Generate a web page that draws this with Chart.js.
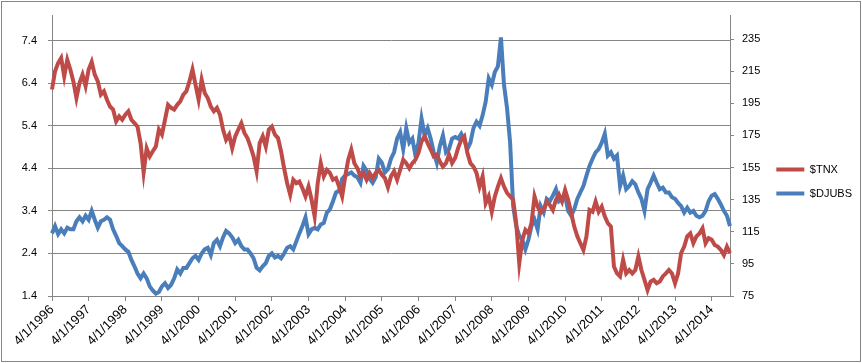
<!DOCTYPE html>
<html>
<head>
<meta charset="utf-8">
<script src="https://cdn.jsdelivr.net/npm/chart.js@4.4.1/dist/chart.umd.min.js"></script>
<style>
  html, body { margin: 0; padding: 0; background: #fff; }
  #wrap { position: relative; width: 862px; height: 363px; }
</style>
</head>
<body>
<div id="wrap"><canvas id="chart" width="862" height="363"></canvas></div>
<script>
// monthly readings, Apr 1996 .. Oct 2014
const startYear = 1996;
const startMonth = 4;

// $TNX (left axis)
const tnx = [
  6.25, 6.68, 6.87, 6.99, 6.56, 6.95, 6.72, 6.44, 6.05, 6.40, 6.60, 6.33,
  6.72, 6.90, 6.60, 6.44, 6.13, 6.21, 6.01, 5.85, 5.78, 5.50, 5.62, 5.54,
  5.66, 5.74, 5.54, 5.46, 5.38, 4.99, 4.30, 4.87, 4.68, 4.80, 4.91, 5.31,
  5.19, 5.54, 5.89, 5.82, 5.78, 5.89, 5.97, 6.13, 6.21, 6.44, 6.72, 6.36,
  6.01, 6.48, 6.17, 6.05, 5.85, 5.74, 5.82, 5.66, 5.31, 5.07, 5.19, 4.87,
  5.15, 5.31, 5.46, 5.23, 5.11, 4.91, 4.68, 4.33, 4.99, 5.15, 4.91, 5.31,
  5.38, 5.19, 5.11, 4.80, 4.40, 4.05, 3.78, 4.13, 4.05, 4.09, 3.93, 3.74,
  3.97, 3.66, 3.27, 4.05, 4.52, 4.21, 4.36, 4.29, 4.13, 4.17, 3.97, 3.74,
  4.21, 4.60, 4.84, 4.52, 4.40, 4.21, 4.29, 4.13, 4.29, 4.17, 4.29, 4.36,
  4.25, 4.17, 3.95, 4.21, 4.33, 4.13, 4.36, 4.60, 4.52, 4.40, 4.52, 4.60,
  4.76, 5.03, 5.15, 4.99, 4.84, 4.68, 4.72, 4.56, 4.44, 4.52, 4.72, 4.52,
  4.64, 4.88, 5.07, 5.15, 4.76, 4.52, 4.44, 4.29, 3.97, 4.21, 3.58, 3.74,
  3.38, 3.74, 3.97, 4.17, 3.97, 3.82, 3.74, 3.66, 3.11, 2.17, 2.72, 2.95,
  2.87, 3.11, 3.74, 3.50, 3.35, 3.42, 3.62, 3.54, 3.42, 3.66, 3.78, 3.62,
  3.89, 3.66, 3.35, 3.03, 2.80, 2.64, 2.48, 2.80, 3.42, 3.38, 3.62, 3.38,
  3.50, 3.27, 3.11, 3.03, 2.09, 1.93, 1.86, 2.25, 1.93, 2.01, 1.93, 2.01,
  2.33, 2.01, 1.78, 1.54, 1.74, 1.78, 1.70, 1.74, 1.86, 1.93, 2.01, 1.93,
  1.70, 1.93, 2.41, 2.56, 2.80, 2.87, 2.64, 2.80, 2.87, 2.99, 2.64, 2.76,
  2.72, 2.60, 2.56, 2.48, 2.36, 2.56, 2.41
];

// $DJUBS (right axis)
const djubs = [
  114, 118.5, 113.5, 116.5, 114, 117.5, 116.5, 116.5, 121.5, 124, 121.5, 125,
  122.5, 128, 122.5, 117.5, 121.5, 122.5, 124, 122.5, 116.5, 112.5, 108, 106,
  104, 102.5, 97.5, 93.5, 89, 86, 89, 86, 81, 78.5, 76.5, 77.5,
  81, 83, 80, 82, 86, 91.5, 89, 92.5, 92.5, 95.5, 98.5, 100,
  97.5, 101.5, 104, 105, 100.5, 108, 110, 106, 111.5, 115.5, 114, 111.5,
  108, 110, 106, 104, 104, 101.5, 98.5, 92.5, 91, 93.5, 95.5, 100,
  101.5, 99, 100, 98.5, 101.5, 105, 106, 104, 109, 114, 118.5, 124,
  113.5, 116.5, 117.5, 116.5, 119.5, 120.5, 127, 129, 134, 139.5, 140.5, 148,
  150, 151, 152, 150, 149, 145.5, 156, 153, 148, 145.5, 149, 160.5,
  158, 152, 154, 160.5, 164.5, 173, 177, 166.5, 179.5, 170.5, 173, 162.5,
  170.5, 185.5, 175, 179.5, 173, 164.5, 158, 168.5, 175, 164.5, 166.5, 173,
  174, 173, 176, 172, 166.5, 170.5, 179.5, 183.5, 181, 187.5, 196, 210.5,
  206.5, 214.5, 218, 236, 206.5, 192, 170.5, 131, 118.5, 112.5, 110, 104,
  110, 118.5, 122.5, 116.5, 131, 127, 135.5, 134, 137.5, 141.5, 134, 135.5,
  137.5, 128, 125, 129, 135.5, 139.5, 143.5, 150, 156, 160.5, 164.5, 166.5,
  170.5, 176, 162.5, 164.5, 160.5, 162.5, 143.5, 150, 141.5, 143.5, 146.5, 144.5,
  139.5, 135.5, 128, 141.5, 145.5, 150, 145.5, 141.5, 142.5, 139.5, 139.5, 136.5,
  135.5, 133, 131, 127, 130, 127, 128, 125, 124, 125, 128, 134,
  137.5, 138.5, 135.5, 132, 128, 125, 118.5
];

const leftTicks = [1.4, 2.4, 3.4, 4.4, 5.4, 6.4, 7.4];
const rightTicks = [75, 95, 115, 135, 155, 175, 195, 215, 235];

// date labels like 4/1/1996
const labels = [];
for (let i = 0; i < tnx.length; i++) {
  const k = startMonth - 1 + i;
  labels.push(`${k % 12 + 1}/1/${startYear + Math.floor(k / 12)}`);
}

const RED = '#BE4B48';
const BLUE = '#4A7EBB';
const GRID = '#868686';
const font = { family: '"Liberation Sans", Arial, sans-serif', size: 11 };
const xFont = { family: '"Liberation Sans", Arial, sans-serif', size: 13 };

const frame = {
  id: 'frame',
  beforeDraw(chart) {
    const c = chart.ctx;
    c.save();
    c.fillStyle = '#fff';
    c.fillRect(0, 0, chart.width, chart.height);
    c.restore();
  },
  afterDraw(chart) {
    const c = chart.ctx;
    c.save();
    c.strokeStyle = GRID;
    c.lineWidth = 1;
    c.strokeRect(1.5, 1.5, chart.width - 3, chart.height - 3);
    c.restore();
  }
};

new Chart(document.getElementById('chart'), {
  type: 'line',
  data: {
    labels: labels,
    datasets: [
      { label: '$TNX', data: tnx, yAxisID: 'yL', borderColor: RED, backgroundColor: RED,
        borderWidth: 4, pointRadius: 0, tension: 0 },
      { label: '$DJUBS', data: djubs, yAxisID: 'yR', borderColor: BLUE, backgroundColor: BLUE,
        borderWidth: 4, pointRadius: 0, tension: 0 }
    ]
  },
  options: {
    responsive: false,
    devicePixelRatio: 1,
    animation: false,
    layout: { padding: 0 },
    plugins: {
      tooltip: { enabled: false },
      legend: {
        position: 'right',
        labels: {
          boxWidth: 28,
          boxHeight: 4,
          padding: 13,
          color: '#000',
          font: font,
          generateLabels: chart => Chart.defaults.plugins.legend.labels.generateLabels(chart)
            .map(l => ({ ...l, lineWidth: 0 }))
        }
      }
    },
    scales: {
      x: {
        offset: false,
        grid: { drawOnChartArea: false, color: GRID, tickLength: 5 },
        border: { color: GRID },
        ticks: { autoSkip: false, minRotation: 45, maxRotation: 45, color: '#000', font: xFont, padding: 1 },
        afterBuildTicks: s => { s.ticks = s.ticks.filter(t => labels[t.value].startsWith('4/')); },
        afterFit: s => { s.height = 67; }
      },
      yL: {
        position: 'left',
        min: 1.4,
        max: 8.0,
        grid: { color: GRID, tickLength: 4 },
        border: { color: GRID },
        ticks: { color: '#000', font: font, padding: 11, callback: v => v.toFixed(1) },
        afterBuildTicks: s => { s.ticks = leftTicks.map(v => ({ value: v })); },
        afterFit: s => { s.width = 52; s.paddingTop = 15; }
      },
      yR: {
        position: 'right',
        min: 75,
        max: 250,
        grid: { drawOnChartArea: false, color: GRID, tickLength: 4 },
        border: { color: GRID },
        ticks: { color: '#000', font: font, padding: 8 },
        afterBuildTicks: s => { s.ticks = rightTicks.map(v => ({ value: v })); },
        afterFit: s => {
          const lw = s.chart.legend ? s.chart.legend.width : 98;
          s.width = s.chart.width - 730 - lw;
          s.paddingTop = 15;
        }
      }
    }
  },
  plugins: [frame]
});
</script>
</body>
</html>
